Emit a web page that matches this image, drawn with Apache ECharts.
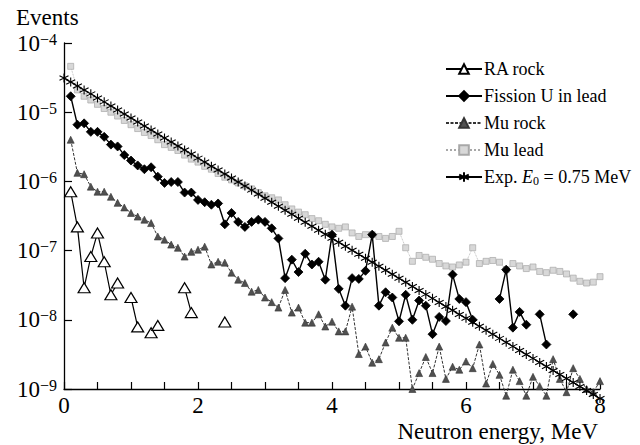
<!DOCTYPE html>
<html>
<head>
<meta charset="utf-8">
<script src="https://cdn.jsdelivr.net/npm/echarts@6/dist/echarts.min.js"></script>
<style>
  html, body { margin: 0; padding: 0; background: #fff; }
  #chart { width: 640px; height: 445px; }
</style>
</head>
<body>
<div id="chart"></div>
<script>
// Neutron energy spectra, bins of 0.1 MeV (bin values at 0.1 ... 8.0 MeV)
const energy = Array.from({ length: 80 }, (_, i) => Math.round((i + 1)) / 10);
// Exponential reference curve sampled at 0.0 ... 8.0 MeV
const expEnergy = Array.from({ length: 81 }, (_, i) => i / 10);

const xTickLabels = ['0', '2', '4', '6', '8'];
const yTickExponents = [-9, -8, -7, -6, -5, -4];

const raRock = [
  7.1e-7, 2.2e-7, 2.9e-8, 8.2e-8, 1.8e-7, 6.9e-8, 2.3e-8, 3.4e-8, null, 2.1e-8,
  7.9e-9, null, 6.5e-9, 8.3e-9, null, null, null, 2.9e-8, 1.27e-8, null,
  null, null, null, 9.3e-9, null, null, null, null, null, null,
  null, null, null, null, null, null, null, null, null, null,
  null, null, null, null, null, null, null, null, null, null,
  null, null, null, null, null, null, null, null, null, null,
  null, null, null, null, null, null, null, null, null, null,
  null, null, null, null, null, null, null, null, null, null
];

const fissionULead = [
  1.7e-5, 6.6e-6, 6.9e-6, 5.2e-6, 5.2e-6, 4.4e-6, 3.4e-6, 3.2e-6, 2.4e-6, 2.0e-6,
  1.7e-6, 1.5e-6, 1.6e-6, 1.17e-6, 9.5e-7, 9.8e-7, 9.8e-7, 6.9e-7, 6.9e-7, 5.4e-7,
  5.0e-7, 4.6e-7, 4.8e-7, 2.4e-7, 3.5e-7, 2.6e-7, 2.2e-7, 2.6e-7, 2.8e-7, 2.6e-7,
  2.1e-7, 1.5e-7, 4.0e-8, 7.4e-8, 4.9e-8, 9.0e-8, 6.3e-8, 6.9e-8, 3.8e-8, 1.7e-7,
  2.8e-8, 1.6e-8, 4.0e-8, 3.9e-8, 5.1e-8, 1.7e-7, 1.6e-8, 2.5e-8, 2.1e-8, 9.5e-9,
  2.3e-8, 1.0e-8, 1.9e-8, 1.6e-8, 6.2e-9, 1.1e-8, 9.6e-9, 4.5e-8, 2.0e-8, 1.8e-8,
  1.0e-8, null, null, null, 2.0e-8, 5.3e-8, 7.7e-9, 1.3e-8, 8.5e-9, null,
  1.2e-8, 4.4e-9, null, null, null, 1.2e-8, null, null, null, null
];

const muRock = [
  4.0e-6, 1.33e-6, 1.27e-6, 8.4e-7, 7.1e-7, 7.1e-7, 6.0e-7, 4.9e-7, 4.2e-7, 3.5e-7,
  3.1e-7, 2.8e-7, 2.5e-7, 1.6e-7, 1.44e-7, 1.22e-7, 1.10e-7, 8.2e-8, 9.6e-8, 1.03e-7,
  1.14e-7, 6.3e-8, 6.9e-8, 6.7e-8, 4.8e-8, 3.8e-8, 3.4e-8, 2.55e-8, 2.7e-8, 2.1e-8,
  1.8e-8, 1.5e-8, 2.7e-8, 1.27e-8, 1.5e-8, 9.1e-9, 9.1e-9, 1.2e-8, 8.0e-9, 9.4e-9,
  6.8e-9, 6.8e-9, 1.55e-8, 3.2e-9, 4.1e-9, 2.4e-9, 2.7e-9, 4.7e-9, 7.7e-9, 5.5e-9,
  5.5e-9, 1.0e-9, 1.7e-9, 2.9e-9, 1.7e-9, 4.1e-9, 1.4e-9, 2.1e-9, 1.9e-9, 2.5e-9,
  2.0e-9, 4.4e-9, 1.2e-9, 2.3e-9, 1.6e-9, 8.0e-10, 1.9e-9, 1.3e-9, 8.0e-10, 1.5e-9,
  1.1e-9, 8.0e-10, 2.7e-9, 1.4e-9, 9.0e-10, 2.0e-9, 1.4e-9, 1.0e-9, 9.0e-10, 1.3e-9
];

const muLead = [
  4.6e-5, 2.1e-5, 1.7e-5, 1.5e-5, 1.3e-5, 1.13e-5, 1.0e-5, 8.8e-6, 7.6e-6, 6.6e-6,
  5.8e-6, 5.1e-6, 4.6e-6, 4.0e-6, 3.4e-6, 3.1e-6, 2.8e-6, 2.4e-6, 2.1e-6, 1.9e-6,
  1.65e-6, 1.5e-6, 1.3e-6, 1.15e-6, 1.05e-6, 9.5e-7, 8.6e-7, 7.8e-7, 6.9e-7, 6.2e-7,
  5.8e-7, 5.4e-7, 4.6e-7, 4.0e-7, 3.6e-7, 3.3e-7, 2.9e-7, 2.7e-7, 2.4e-7, 2.2e-7,
  2.1e-7, 2.2e-7, 1.8e-7, 1.6e-7, 1.7e-7, 1.7e-7, 1.6e-7, 1.5e-7, 1.6e-7, 1.9e-7,
  1.1e-7, 7.0e-8, 8.5e-8, 8.0e-8, 7.5e-8, 6.5e-8, 6.0e-8, 5.8e-8, 6.2e-8, 6.8e-8,
  1.1e-7, 6.5e-8, 7.0e-8, 7.2e-8, 6.8e-8, 5.3e-8, 6.5e-8, 6.0e-8, 5.5e-8, 5.8e-8,
  5.0e-8, 4.8e-8, 5.2e-8, 5.0e-8, 4.6e-8, 4.0e-8, 3.6e-8, 3.4e-8, 3.5e-8, 4.2e-8
];

const expE075 = [
  3.13e-5, 2.74e-5, 2.40e-5, 2.10e-5, 1.84e-5, 1.61e-5, 1.41e-5, 1.23e-5, 1.08e-5, 9.43e-6,
  8.25e-6, 7.22e-6, 6.32e-6, 5.53e-6, 4.84e-6, 4.24e-6, 3.71e-6, 3.24e-6, 2.84e-6, 2.48e-6,
  2.17e-6, 1.90e-6, 1.66e-6, 1.46e-6, 1.28e-6, 1.12e-6, 9.77e-7, 8.55e-7, 7.48e-7, 6.55e-7,
  5.73e-7, 5.01e-7, 4.39e-7, 3.84e-7, 3.36e-7, 2.94e-7, 2.57e-7, 2.25e-7, 1.97e-7, 1.72e-7,
  1.51e-7, 1.32e-7, 1.16e-7, 1.01e-7, 8.85e-8, 7.74e-8, 6.78e-8, 5.93e-8, 5.19e-8, 4.54e-8,
  3.97e-8, 3.48e-8, 3.04e-8, 2.66e-8, 2.33e-8, 2.04e-8, 1.78e-8, 1.56e-8, 1.37e-8, 1.19e-8,
  1.05e-8, 9.19e-9, 8.04e-9, 7.04e-9, 6.16e-9, 5.39e-9, 4.72e-9, 4.13e-9, 3.61e-9, 3.16e-9,
  2.77e-9, 2.42e-9, 2.12e-9, 1.85e-9, 1.62e-9, 1.42e-9, 1.24e-9, 1.09e-9, 9.5e-10, 8.3e-10,
  7.3e-10
];

const NAMES = {
  ra: 'RA rock',
  fission: 'Fission U in lead',
  muRock: 'Mu rock',
  muLead: 'Mu lead',
  exp: 'Exp. E0 = 0.75 MeV'
};

const FONT = 'Liberation Serif';

function pairs(xs, ys) {
  return xs.map((x, i) => [x, ys[i] == null ? '-' : ys[i]]);
}

// six-armed asterisk drawn as strokes
const ASTERISK = 'path://M0,-10L0,10M-8.66,-5L8.66,5M-8.66,5L8.66,-5';

const chart = echarts.init(document.getElementById('chart'), null, { renderer: 'svg' });

chart.setOption({
  animation: false,
  backgroundColor: '#fff',
  textStyle: { fontFamily: FONT },
  grid: { left: 64, right: 40, top: 43, bottom: 56, containLabel: false },
  xAxis: {
    type: 'value',
    min: 0,
    max: 8,
    interval: 0.5,
    axisLine: { show: true, onZero: false, lineStyle: { color: '#000', width: 1.3 } },
    axisTick: { show: true, inside: true, length: 7, lineStyle: { color: '#000', width: 1.2 } },
    splitLine: { show: false },
    axisLabel: {
      margin: 5,
      formatter: v => {
        const idx = xTickLabels.indexOf(String(v));
        return idx >= 0 ? '{n|' + xTickLabels[idx] + '}' : '';
      },
      rich: {
        n: { fontFamily: FONT, fontSize: 23, color: '#000' }
      }
    }
  },
  yAxis: {
    type: 'log',
    logBase: 10,
    min: 1e-9,
    max: 1e-4,
    axisLine: { show: true, onZero: false, lineStyle: { color: '#000', width: 1.3 } },
    axisTick: { show: true, inside: true, length: 8, lineStyle: { color: '#000', width: 1.2 } },
    splitLine: { show: false },
    axisLabel: {
      margin: 7,
      formatter: v => {
        const n = Math.round(Math.log10(v));
        if (yTickExponents.indexOf(n) < 0) return '';
        return '{b|10}{s|\u2212' + Math.abs(n) + '}';
      },
      rich: {
        b: { fontFamily: FONT, fontSize: 23, color: '#000', lineHeight: 24 },
        s: { fontFamily: FONT, fontSize: 16, color: '#000', verticalAlign: 'top', lineHeight: 24, padding: [0, 0, 10, 0] }
      }
    }
  },
  legend: {
    orient: 'vertical',
    left: 440,
    top: 55,
    itemWidth: 36,
    itemHeight: 12,
    itemGap: 9,
    data: [NAMES.ra, NAMES.fission, NAMES.muRock, NAMES.muLead, NAMES.exp],
    formatter: name => name === NAMES.exp
      ? '{t|Exp. }{i|E}{sub|0}{t| = 0.75 MeV}'
      : '{t|' + name + '}',
    textStyle: {
      fontFamily: FONT,
      fontSize: 18,
      color: '#000',
      padding: [0, 0, 0, -3],
      rich: {
        t: { fontFamily: FONT, fontSize: 18, color: '#000' },
        i: { fontFamily: FONT, fontSize: 18, fontStyle: 'italic', color: '#000' },
        sub: { fontFamily: FONT, fontSize: 12, color: '#000', verticalAlign: 'bottom', padding: [8, 0, 0, 0] }
      }
    }
  },
  graphic: [
    {
      type: 'text',
      left: 16,
      top: 6,
      style: { text: 'Events', font: '23px ' + FONT, fill: '#000' }
    },
    {
      type: 'text',
      right: 42,
      top: 420,
      style: { text: 'Neutron energy, MeV', font: '23px ' + FONT, fill: '#000' }
    }
  ],
  series: [
    {
      name: NAMES.muLead,
      type: 'line',
      z: 1,
      clip: false,
      data: pairs(energy, muLead),
      symbol: 'rect',
      symbolSize: 6,
      itemStyle: { color: '#d8d8d8', borderColor: '#a8a8a8', borderWidth: 0.7 },
      lineStyle: { color: '#a8a8a8', width: 0.8, type: 'dotted' }
    },
    {
      name: NAMES.muRock,
      type: 'line',
      z: 2,
      clip: false,
      data: pairs(energy, muRock),
      symbol: 'triangle',
      symbolSize: 7,
      itemStyle: { color: '#505050', borderColor: '#333', borderWidth: 0.6 },
      lineStyle: { color: '#333', width: 1, type: [3, 1.5] }
    },
    {
      name: NAMES.ra,
      type: 'line',
      z: 3,
      clip: false,
      data: pairs(energy, raRock),
      symbol: 'triangle',
      symbolSize: [12, 10],
      itemStyle: { color: '#fff', borderColor: '#000', borderWidth: 1.2 },
      lineStyle: { color: '#000', width: 1.2 }
    },
    {
      name: NAMES.fission,
      type: 'line',
      z: 4,
      clip: false,
      data: pairs(energy, fissionULead),
      symbol: 'diamond',
      symbolSize: 9,
      itemStyle: { color: '#000', borderColor: '#000', borderWidth: 0.8 },
      lineStyle: { color: '#000', width: 1.4 }
    },
    {
      name: NAMES.exp,
      type: 'line',
      z: 5,
      clip: false,
      data: pairs(expEnergy, expE075),
      symbol: ASTERISK,
      symbolSize: 9,
      itemStyle: { color: '#000', borderColor: '#000', borderWidth: 1.1 },
      lineStyle: { color: '#000', width: 1.1 }
    }
  ]
});
</script>
</body>
</html>
